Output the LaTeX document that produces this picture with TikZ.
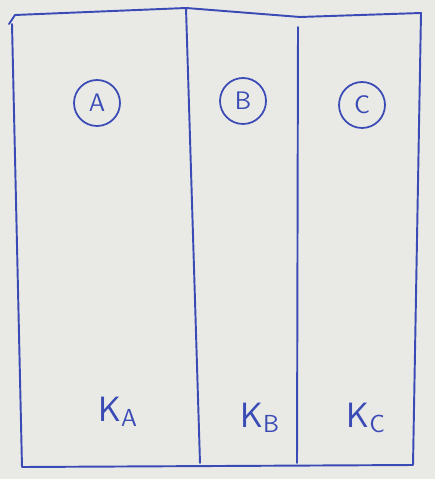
\documentclass[tikz,border=0pt]{standalone}
\definecolor{paper}{HTML}{E9E9E6}
\definecolor{ink}{HTML}{3A4BB5}
\tikzset{
  wall/.style={ink,line width=1.1pt,line cap=round,line join=round},
  zone/.style={circle,draw=ink,line width=1pt,text=ink,minimum size=0.92cm,inner sep=0pt,font=\Large\sffamily},
  klabel/.style={text=ink,font=\fontsize{20}{24}\selectfont\sffamily}
}
\begin{document}
\begin{tikzpicture}[x=0.02cm,y=-0.02cm]
  \fill[paper] (0,0) rectangle (435,479);
  \useasboundingbox (0,0) rectangle (435,479);
  % outline
  \draw[wall] (9,24)--(15,15)--(186,8)--(300,17)--(421,13)--(413,465)--(22,467)--(12,24);
  % dividers
  \draw[wall] (186,8)--(200,463);
  \draw[wall] (298,27)--(297,463);
  % zones
  \node[zone] (A) at (97,103) {A};
  \node[zone] (B) at (243,101) {B};
  \node[zone] (C) at (362,105) {C};
  \node[klabel] (KA) at (118,412) {K\textsubscript{A}};
  \node[klabel] (KB) at (260,418) {K\textsubscript{B}};
  \node[klabel] (KC) at (366,418) {K\textsubscript{C}};
\end{tikzpicture}
\end{document}
